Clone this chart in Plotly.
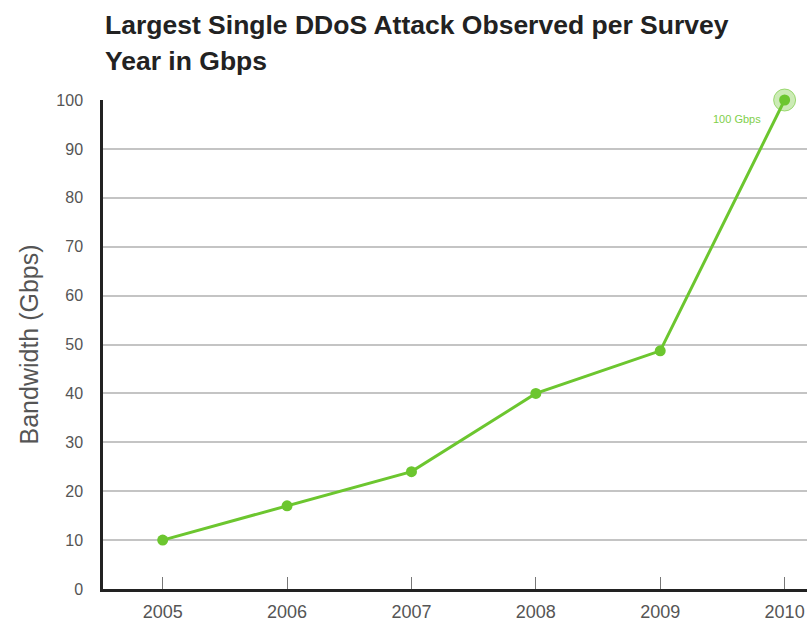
import plotly.graph_objects as go

years = [2005, 2006, 2007, 2008, 2009, 2010]
gbps = [10, 17, 24, 40, 48.7, 100]
y_ticks = [0, 10, 20, 30, 40, 50, 60, 70, 80, 90, 100]
title_lines = ["Largest Single DDoS Attack Observed per Survey", "Year in Gbps"]

green = "#6cc62f"
font = "Liberation Sans, Arial, sans-serif"

fig = go.Figure()
fig.add_trace(go.Scatter(
    x=[years[-1]], y=[gbps[-1]], mode="markers",
    marker=dict(size=22, color="rgba(108,198,47,0.35)", line=dict(color="rgba(108,198,47,0.6)", width=1)),
    hoverinfo="skip", cliponaxis=False, showlegend=False))
fig.add_trace(go.Scatter(
    x=years, y=gbps, mode="lines+markers",
    line=dict(color=green, width=3),
    marker=dict(size=11, color=green),
    cliponaxis=False, showlegend=False))

fig.update_layout(
    width=807, height=624,
    margin=dict(l=103, r=0, t=100, b=35),
    paper_bgcolor="white", plot_bgcolor="white",
    font=dict(family=font, color="#555"),
    xaxis=dict(range=[2004.52, 2010.18], tickvals=years, ticktext=[str(y) for y in years],
               showgrid=False, showline=True, linecolor="#222", linewidth=2.5,
               ticks="inside", ticklen=12, tickcolor="#777", tickwidth=1,
               tickfont=dict(size=18, color="#555"), zeroline=False, ticklabelstandoff=5),
    yaxis=dict(range=[0, 100], tickvals=y_ticks, showgrid=True, gridcolor="#c4c4c4", gridwidth=2,
               showline=True, linecolor="#222", linewidth=2.5, ticks="", zeroline=False,
               tickfont=dict(size=16, color="#555"), ticklabelstandoff=14),
)

fig.add_annotation(xref="paper", yref="paper", x=0, y=1 + 75 / 489, xanchor="left", yanchor="middle",
                   text="<b>" + title_lines[0] + "</b>", showarrow=False,
                   font=dict(size=26.5, color="#222", family=font))
fig.add_annotation(xref="paper", yref="paper", x=0, y=1 + 39 / 489, xanchor="left", yanchor="middle",
                   text="<b>" + title_lines[1] + "</b>", showarrow=False,
                   font=dict(size=26.5, color="#222", family=font))
fig.add_annotation(xref="paper", yref="paper", x=-75 / 704, y=0.5, textangle=-90,
                   text="Bandwidth (Gbps)", showarrow=False, xanchor="center", yanchor="middle",
                   font=dict(size=25, color="#555", family=font))
fig.add_annotation(x=years[-1], y=gbps[-1], text=f"{gbps[-1]:.0f} Gbps", showarrow=False,
                   xanchor="right", yanchor="middle", xshift=-22, yshift=-19,
                   font=dict(size=11, color="#7fcf4a", family=font))

fig.write_html("out.html")
